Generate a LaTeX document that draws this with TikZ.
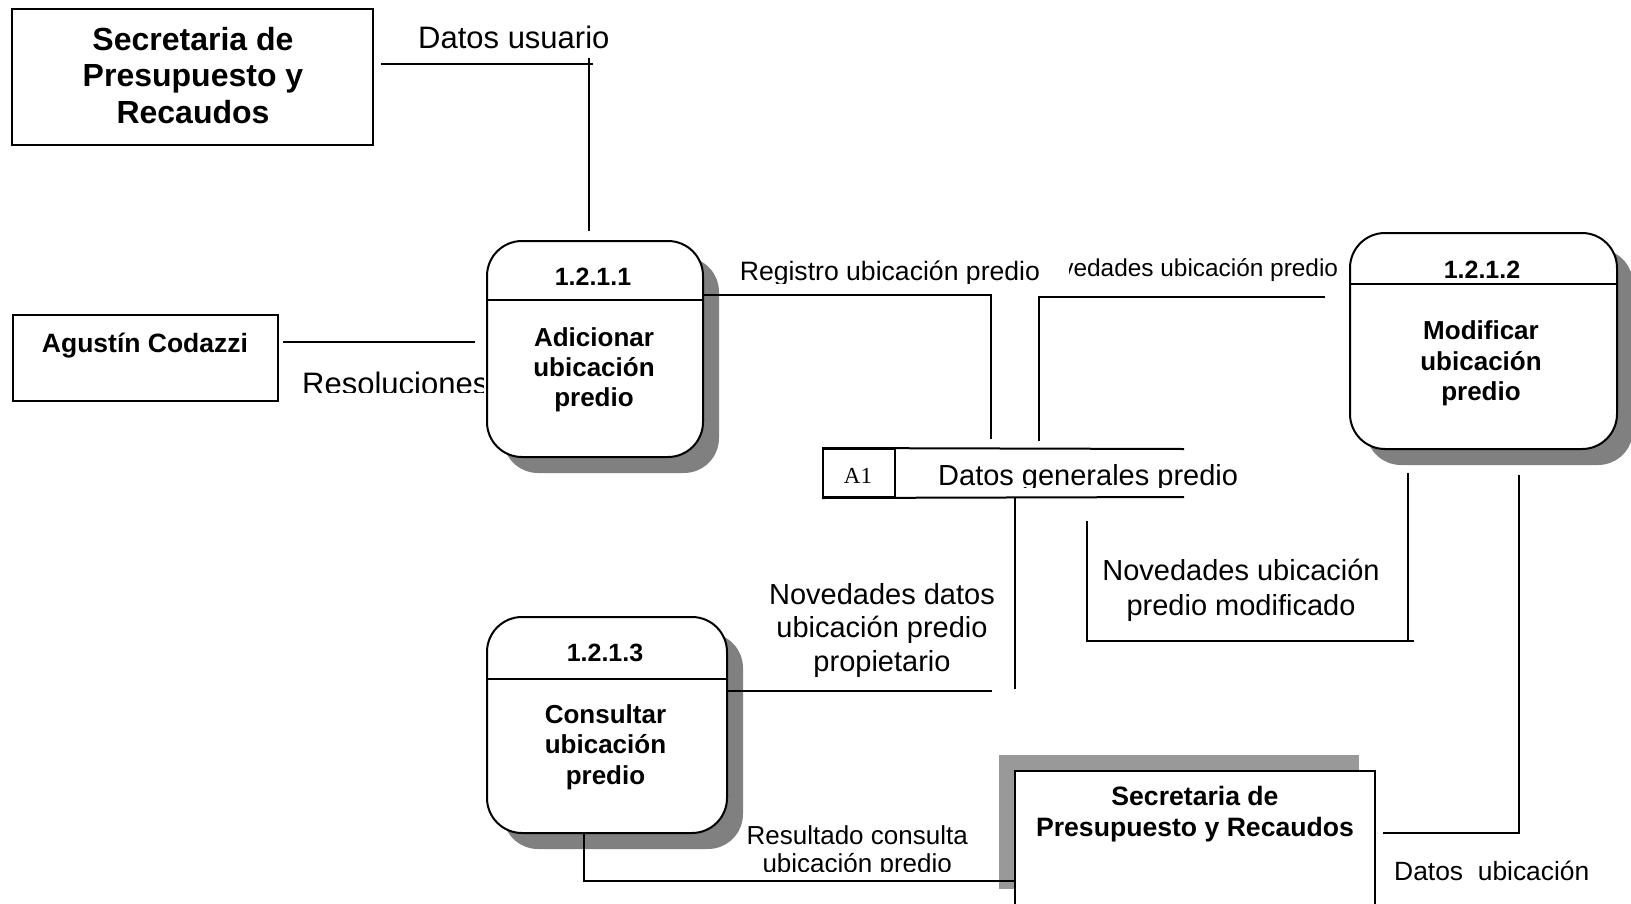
\documentclass[tikz,border=0pt]{standalone}
\usepackage{fontspec}
\setmainfont{Liberation Sans}
\newfontfamily\storefont{Liberation Serif}
\usetikzlibrary{shadows}

\definecolor{procshade}{HTML}{808080}
\definecolor{entshade}{HTML}{999999}

\tikzset{
  flow/.style={line width=2pt},
  entity/.style={draw, line width=2pt, fill=white, inner sep=0pt},
  procbox/.style={draw, line width=2pt, fill=white, rounded corners=35pt, inner sep=0pt,
    drop shadow={shadow xshift=16pt, shadow yshift=-16pt, fill=procshade, opacity=1}},
  txt/.style={inner sep=0pt, align=center},
  boldtxt/.style={txt, font=\bfseries\fontsize{#1}{#1}\selectfont},
}

\begin{document}
\begin{tikzpicture}[x=1pt, y=-1pt]
\useasboundingbox (0,0) rectangle (1631,903);
\clip (0,0) rectangle (1631,903);
\fill[white] (0,0) rectangle (1631,903);

% ---------- external entities ----------
\node[entity, minimum width=361pt, minimum height=136pt] (spr1) at (192.5,77) {};
\node[txt, font=\bfseries\fontsize{32}{36.5}\selectfont] (spr1t) at (193,79.2)
  {\strut Secretaria de\\Presupuesto y\\Recaudos\strut};

\node[entity, minimum width=265pt, minimum height=85.5pt] (agus) at (145,358) {};
\node[boldtxt=26.5, anchor=base] (agust) at (145,352) {Agustín Codazzi};

\node[entity, minimum width=360pt, minimum height=134pt,
  drop shadow={shadow xshift=-16pt, shadow yshift=16pt, fill=entshade, opacity=1}]
  (spr2) at (1195,838) {};
\node[txt, font=\bfseries\fontsize{26.6}{31.7}\selectfont] (spr2t) at (1195,814.5)
  {\strut Secretaria de\\Presupuesto y Recaudos\strut};

% ---------- processes ----------
\node[procbox, minimum width=216pt, minimum height=216pt] (p1) at (595,349) {};
\draw[flow] (p1.west |- 0,300) -- (p1.east |- 0,300);
\node[boldtxt=25, anchor=base] (p1n) at (593,285.3) {1.2.1.1};
\node[txt, font=\bfseries\fontsize{26}{30}\selectfont] (p1t) at (594,370.7)
  {\strut Adicionar\\ubicación\\predio\strut};

\node[procbox, minimum width=267pt, minimum height=216pt] (p2) at (1483.5,341) {};
\draw[flow] (p2.west |- 0,284) -- (p2.east |- 0,284);
\node[boldtxt=25, anchor=base] (p2n) at (1482,278) {1.2.1.2};
\node[txt, font=\bfseries\fontsize{26}{30.5}\selectfont] (p2t) at (1481,364)
  {\strut Modificar\\ubicación\\predio\strut};

\node[procbox, minimum width=240pt, minimum height=216pt] (p3) at (607,725) {};
\draw[flow] (p3.west |- 0,679) -- (p3.east |- 0,679);
\node[boldtxt=25, anchor=base] (p3n) at (605,661) {1.2.1.3};
\node[txt, font=\bfseries\fontsize{26}{30.5}\selectfont] (p3t) at (605.5,747.4)
  {\strut Consultar\\ubicación\\predio\strut};

% ---------- data store ----------
\node[draw, line width=2pt, inner sep=0pt, minimum width=72pt, minimum height=48pt] (a1) at (859,473) {};
\node[txt, anchor=base, font=\storefont\fontsize{23}{23}\selectfont] (a1t) at (858,483) {A1};
\coordinate (st-top) at (1184,449);
\coordinate (st-bot) at (1184,497);
\draw[flow] (a1.north west) -- (st-top);
\draw[flow] (a1.south west) -- (st-bot);
\begin{scope}
  \clip (900,440) rectangle (1280,487.5);
  \node[txt, anchor=base west, font=\fontsize{29}{29}\selectfont] (stl) at (938,485) {Datos generales predio};
\end{scope}

% ---------- flow labels ----------
\node[txt, anchor=base west, font=\fontsize{31}{31}\selectfont] (dul) at (418,48.3) {Datos usuario};
\begin{scope}
  \clip (290,350) rectangle (483.5,392.5);
  \node[txt, anchor=base west, font=\fontsize{31}{31}\selectfont] (resl) at (302,394) {Resoluciones};
\end{scope}
\begin{scope}
  \clip (720,250) rectangle (1060,283);
  \node[txt, anchor=base west, font=\fontsize{26.6}{26.6}\selectfont] (regl) at (739.6,280.7) {Registro ubicación predio};
\end{scope}
\begin{scope}
  \clip (1069,245) rectangle (1345,290);
  \node[txt, anchor=base west, font=\fontsize{24.4}{24.4}\selectfont] (novl) at (1030,276.7) {Novedades ubicación predio};
\end{scope}
\node[txt, font=\fontsize{29}{33.5}\selectfont] (ndl) at (882,631.1)
  {\strut Novedades datos\\ubicación predio\\propietario\strut};
\node[txt, font=\fontsize{29}{35}\selectfont] (nml) at (1241,591)
  {\strut Novedades ubicación\\predio modificado\strut};
\begin{scope}
  \clip (730,815) rectangle (990,871);
  \node[txt, font=\fontsize{26}{28}\selectfont] (rcl) at (857.2,852.7)
    {\strut Resultado consulta\\ubicación predio\strut};
\end{scope}
\node[txt, anchor=base west, font=\fontsize{26.4}{26.4}\selectfont] (dubl) at (1394,880.7) {Datos\ \ ubicación};

% ---------- data flows ----------
\coordinate (du-a) at (381,64.3);
\coordinate (du-b) at (593,64.3);
\coordinate (du-c) at (589,57.7);
\coordinate (du-d) at (589,231);
\draw[flow] (du-a) -- (du-b);
\draw[flow] (du-c) -- (du-d);

\coordinate (res-a) at (283,342);
\coordinate (res-b) at (475,342);
\draw[flow] (res-a) -- (res-b);

\coordinate (reg-b) at (991,295);
\coordinate (reg-c) at (991,439);
\draw[flow] (reg-b -| p1.east) -- (reg-b) -- (reg-c);

\coordinate (nov-a) at (1325,297);
\coordinate (nov-b) at (1038.6,297);
\coordinate (nov-c) at (1038.6,441);
\draw[flow] (nov-a) -- (nov-b) -- (nov-c);

\coordinate (nd-a) at (1015,497);
\coordinate (nd-b) at (1015,689);
\draw[flow] (nd-a) -- (nd-b);
\coordinate (nd-c) at (992,690.7);
\draw[flow] (nd-c -| p3.east) -- (nd-c);

\coordinate (nm-a) at (1087,521);
\coordinate (nm-b) at (1087,640.5);
\coordinate (nm-c) at (1413.6,640.5);
\coordinate (nm-d) at (1408,473);
\coordinate (nm-e) at (1408,640.5);
\draw[flow] (nm-a) -- (nm-b) -- (nm-c);
\draw[flow] (nm-d) -- (nm-e);

\coordinate (dub-a) at (1519,475);
\coordinate (dub-b) at (1519,832.5);
\coordinate (dub-c) at (1383,832.5);
\draw[flow] (dub-a) -- (dub-b) -- (dub-c);

\coordinate (rc-a) at (583.5,880.5);
\draw[flow] (p3.south -| rc-a) -- (rc-a) -- (rc-a -| spr2.west);
\end{tikzpicture}
\end{document}
